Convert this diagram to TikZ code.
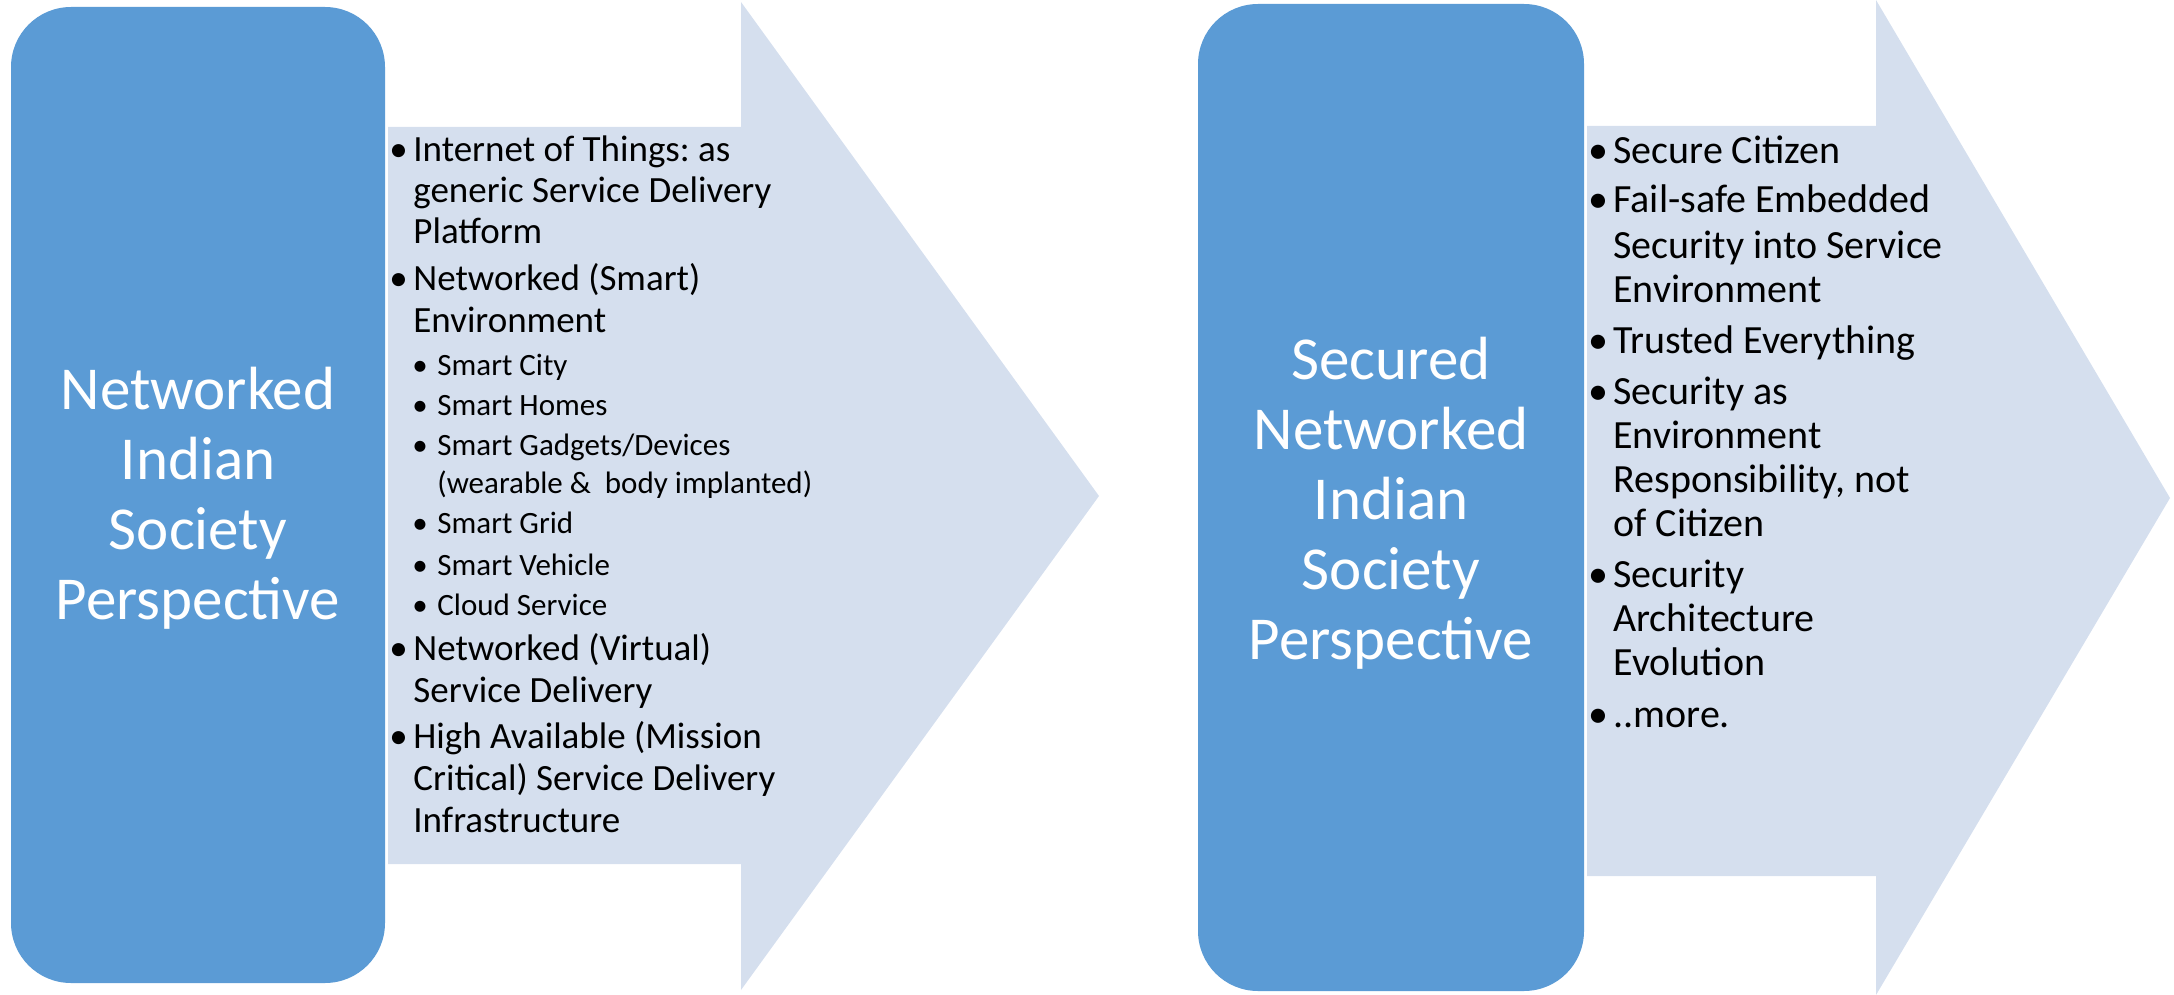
\documentclass[tikz,border=0pt]{standalone}
\usepackage{fontspec}
\setmainfont{Carlito}
\frenchspacing
\definecolor{panelblue}{HTML}{5B9BD5}
\definecolor{arrowblue}{HTML}{D5DFEE}
\tikzset{
  panel/.style={fill=panelblue, rounded corners=30pt, inner sep=0pt},
  paneltitle/.style={text=white, align=center, inner sep=0pt, font=\fontsize{30.5pt}{35pt}\selectfont},
  arrowbg/.style={fill=arrowblue},
  mainitem/.style={anchor=base west, inner sep=0pt, font=\fontsize{18.5pt}{20pt}\selectfont},
  subitem/.style={anchor=base west, inner sep=0pt, font=\fontsize{15.5pt}{17pt}\selectfont},
  rightitem/.style={anchor=base west, inner sep=0pt, font=\fontsize{20pt}{22pt}\selectfont},
}
\begin{document}
\begin{tikzpicture}[x=0.5pt, y=-0.5pt]
\useasboundingbox (0,0) rectangle (2174,995);
% arrows
\fill[arrowbg] (388,127) -- (741,127) -- (741,2) -- (1099,496) -- (741,990) -- (741,864) -- (388,864) -- cycle;
\fill[arrowbg] (1587,126) -- (1876,126) -- (1876,0) -- (2170,498) -- (1876,995) -- (1876,876) -- (1587,876) -- cycle;
% panels
\node[panel, minimum width=187pt, minimum height=488pt] (leftpanel) at (198,495) {};
\node[paneltitle] (lefttitle) at (198,498)
  {Networked\\Indian\\Society\\Perspective};
\node[panel, minimum width=193pt, minimum height=493.5pt] (rightpanel) at (1391,497.5) {};
\node[paneltitle] (righttitle) at (1391,503)
  {Secured\\Networked\\Indian\\Society\\Perspective};
% left list
\node[mainitem] (lb1) at (389,162) {•};
\node[mainitem] (l1) at (413,162) {Internet of Things: as};
\node[mainitem] (l2) at (413,202) {generic Service Delivery};
\node[mainitem] (l3) at (413,243) {Platform};
\node[mainitem] (lb2) at (389,290) {•};
\node[mainitem] (l4) at (413,290) {Networked (Smart)};
\node[mainitem] (l5) at (413,332) {Environment};
\node[subitem] (sb1) at (412,375) {•};
\node[subitem] (s1) at (437,375) {Smart City};
\node[subitem] (sb2) at (412,415) {•};
\node[subitem] (s2) at (437,415) {Smart Homes};
\node[subitem] (sb3) at (412,455) {•};
\node[subitem] (s3) at (437,455) {Smart Gadgets/Devices};
\node[subitem] (s4) at (437,493) {(wearable \&\ \ body implanted)};
\node[subitem] (sb4) at (412,533) {•};
\node[subitem] (s5) at (437,533) {Smart Grid};
\node[subitem] (sb5) at (412,575) {•};
\node[subitem] (s6) at (437,575) {Smart Vehicle};
\node[subitem] (sb6) at (412,615) {•};
\node[subitem] (s7) at (437,615) {Cloud Service};
\node[mainitem] (lb3) at (389,660) {•};
\node[mainitem] (l6) at (413,660) {Networked (Virtual)};
\node[mainitem] (l7) at (413,702) {Service Delivery};
\node[mainitem] (lb4) at (389,748) {•};
\node[mainitem] (l8) at (413,748) {High Available (Mission};
\node[mainitem] (l9) at (413,790) {Critical) Service Delivery};
\node[mainitem] (l10) at (413,832) {Infrastructure};
% right list
\node[rightitem] (rb1) at (1588,163) {•};
\node[rightitem] (r1) at (1613,163) {Secure Citizen};
\node[rightitem] (rb2) at (1588,213) {•};
\node[rightitem] (r2) at (1613,213) {Fail-safe Embedded};
\node[rightitem] (r3) at (1613,258) {Security into Service};
\node[rightitem] (r4) at (1613,302) {Environment};
\node[rightitem] (rb3) at (1588,353) {•};
\node[rightitem] (r5) at (1613,353) {Trusted Everything};
\node[rightitem] (rb4) at (1588,404) {•};
\node[rightitem] (r6) at (1613,404) {Security as};
\node[rightitem] (r7) at (1613,448) {Environment};
\node[rightitem] (r8) at (1613,492) {Responsibility, not};
\node[rightitem] (r9) at (1613,536) {of Citizen};
\node[rightitem] (rb5) at (1588,587) {•};
\node[rightitem] (r10) at (1613,587) {Security};
\node[rightitem] (r11) at (1613,631) {Architecture};
\node[rightitem] (r12) at (1613,675) {Evolution};
\node[rightitem] (rb6) at (1588,727) {•};
\node[rightitem] (r13) at (1613,727) {..more.};
\end{tikzpicture}
\end{document}
